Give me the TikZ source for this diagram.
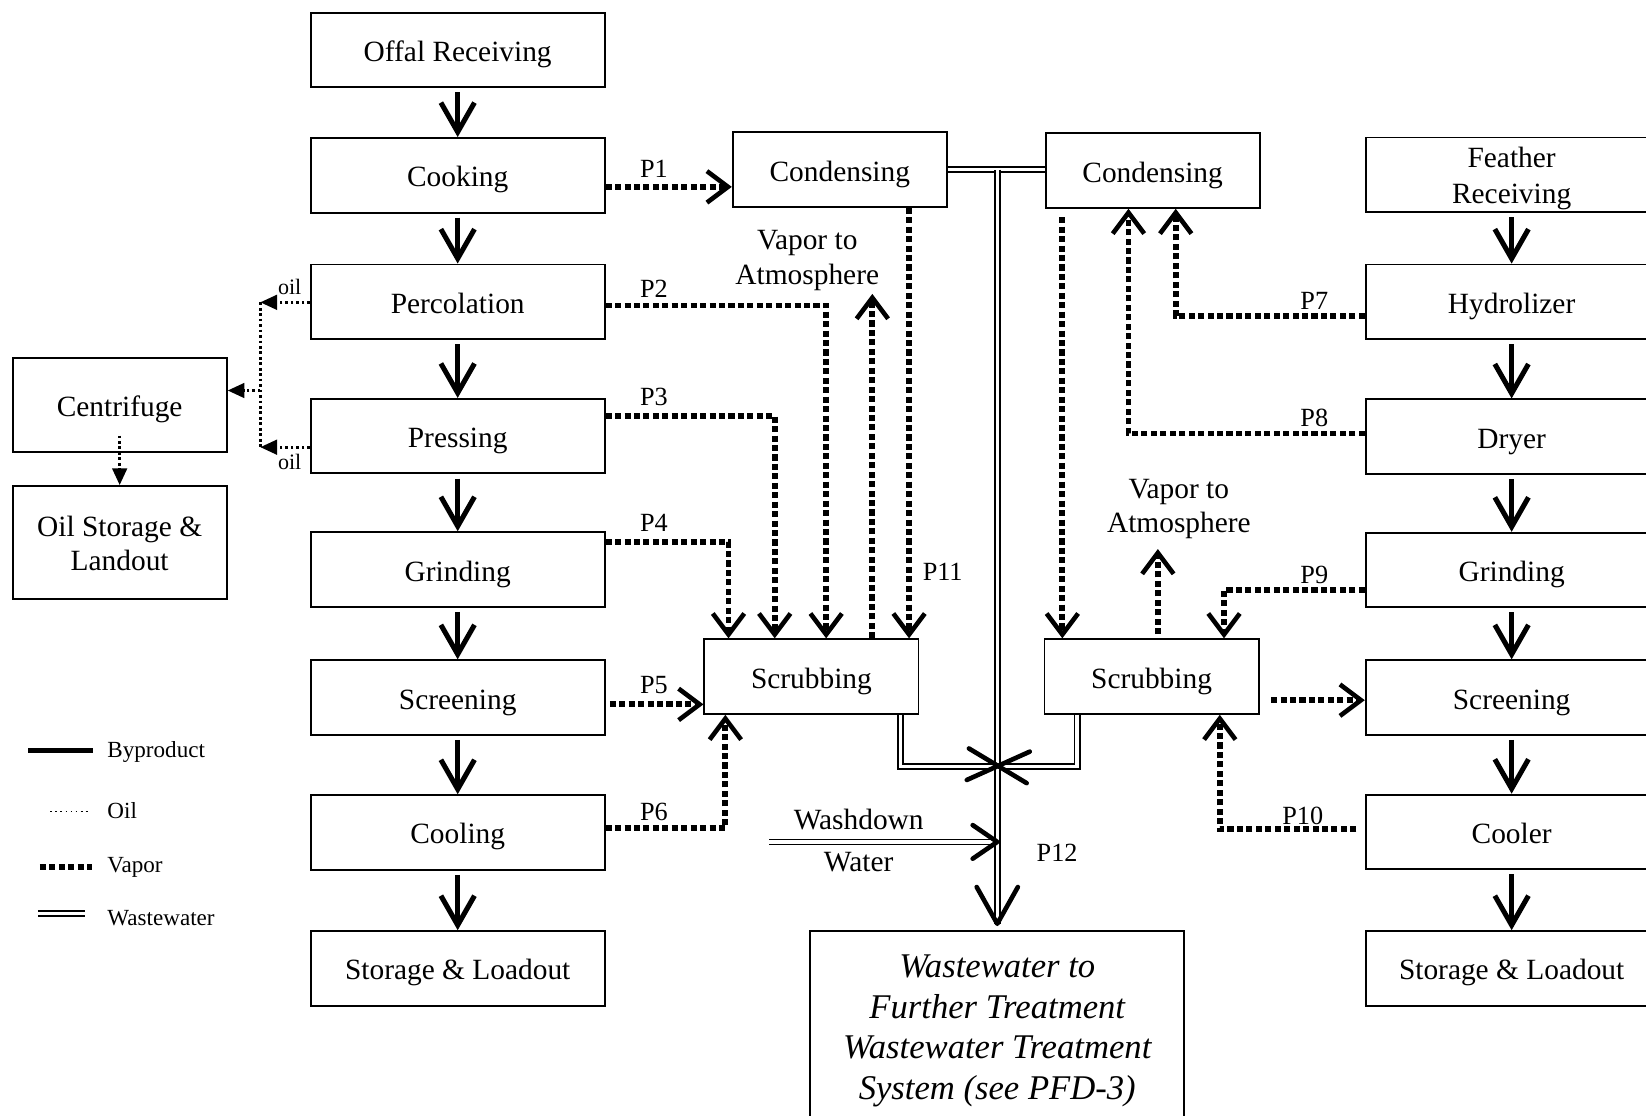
\documentclass[tikz,border=0pt]{standalone}
\usepackage{fontspec}
\setmainfont{Liberation Serif}
\usetikzlibrary{arrows.meta}
\newcommand\fsz[2]{\fontsize{#1}{#2}\selectfont}
\begin{document}
\begin{tikzpicture}[x=0.5pt,y=-0.5pt,
  boxbase/.style={draw, line width=0.9pt, inner sep=0pt, align=center, font=\fsz{14}{17}},
  box/.style={boxbase, text height=12pt, text depth=1pt},
  lbox/.style={box, minimum width=140pt, minimum height=35.5pt},
  rbox/.style={box, minimum width=139pt, minimum height=35.5pt},
  mbox/.style={box, minimum width=102pt, minimum height=35.5pt},
  byp/.style={line width=2.4pt, -{Straight Barb[length=14pt,width=16pt]}},
  vap/.style={line width=2.8pt, dash pattern=on 2.9pt off 1.6pt},
  vt/.style={-{Straight Barb[length=10pt,width=15pt,line width=2.2pt]}},
  oil/.style={line width=1.3pt, dash pattern=on 1.3pt off 1.3pt},
  ot/.style={-{Triangle[length=8pt,width=7pt]}},
  wwl/.style={double, double distance=1.6pt, line width=0.8pt},
  tipl/.style={line width=2.2pt, line cap=round, line join=round},
  plab/.style={font=\fsz{12.5}{15}, inner sep=0pt},
  txt/.style={font=\fsz{14}{16.5}, align=center, inner sep=0pt},
  smt/.style={font=\fsz{10.5}{12}, inner sep=0pt},
  legt/.style={font=\fsz{11}{13}, inner sep=0pt, anchor=west}
]
\useasboundingbox (0,0) rectangle (1568,1063);
\clip (0,0) rectangle (1568,1063);

% left column
\node[lbox] (off) at (436,47.5) {Offal Receiving};
\node[lbox] (cook) at (436,167) {Cooking};
\node[lbox] (perc) at (436,287.5) {Percolation};
\node[lbox] (press) at (436,415.5) {Pressing};
\node[lbox] (grind) at (436,542.5) {Grinding};
\node[lbox] (screen) at (436,664.5) {Screening};
\node[lbox] (cool) at (436,793) {Cooling};
\node[lbox] (store) at (436,922.5) {Storage \& Loadout};
% right column
\node[boxbase, minimum width=139pt, minimum height=35.5pt] (feat) at (1440,166.5) {\raisebox{-1.6pt}[\height][\depth]{\begin{tabular}{@{}c@{}}Feather\\Receiving\end{tabular}}};
\node[rbox] (hyd) at (1440,287.5) {Hydrolizer};
\node[rbox] (dry) at (1440,416) {Dryer};
\node[rbox] (rgrind) at (1440,543) {Grinding};
\node[rbox] (rscreen) at (1440,664.5) {Screening};
\node[rbox] (cooler) at (1440,792.5) {Cooler};
\node[rbox] (rstore) at (1440,922.5) {Storage \& Loadout};
% middle
\node[mbox] (cond1) at (800,161.5) {Condensing};
\node[mbox] (cond2) at (1098,162.5) {Condensing};
\node[mbox] (scrub1) at (773,644.5) {Scrubbing};
\node[mbox] (scrub2) at (1097,644.5) {Scrubbing};
% far left
\node[mbox, minimum height=45pt] (cent) at (114,386) {Centrifuge};
\node[boxbase, minimum width=102pt, minimum height=54pt, font=\fsz{14}{15.8}] (oilst) at (114,517) {\raisebox{-2pt}[\height][\depth]{\begin{tabular}{@{}c@{}}Oil Storage \&\\Landout\end{tabular}}};
% wastewater box
\node[draw, line width=0.9pt, minimum width=178pt, minimum height=110pt, anchor=north, inner sep=0pt] (ww) at (950,886) {};
\node[font=\itshape\fsz{16.5}{19.4}, align=center, inner sep=0pt] (wwt) at (950,982) {Wastewater to\\Further Treatment\\Wastewater Treatment\\System (see PFD-3)};

% byproduct arrows
\foreach \a/\b in {off/cook, cook/perc, perc/press, press/grind, grind/screen, screen/cool, cool/store, feat/hyd, hyd/dry, dry/rgrind, rgrind/rscreen, rscreen/cooler, cooler/rstore}
  \draw[byp] ([yshift=-2pt]\a.south) -- (\b.north);

% oil
\coordinate (ov1) at (248,288);
\coordinate (ov2) at (248,426);
\coordinate (ovc) at (248,372);
\draw[oil] (ov1) -- (ov2);
\draw[oil, ot] (perc.west |- ov1) -- (ov1);
\draw[oil, ot] (press.west |- ov2) -- (ov2);
\draw[oil, ot] (ovc) -- (cent.east |- ovc);
\draw[oil, ot] ([yshift=8.5pt]cent.south) -- (oilst.north);
\node[smt] (oil1) at (276,273) {oil};
\node[smt] (oil2) at (276,440) {oil};

% vapor lines, left
\draw[vap, vt] (cook.east |- 0,178) -- (cond1.west |- 0,178);
\draw[vap, vt] (perc.east |- 0,291) -| (scrub1.north -| 787,0);
\draw[vap, vt] (press.east |- 0,396) -| (scrub1.north -| 738,0);
\draw[vap, vt] (grind.east |- 0,516) -| (scrub1.north -| 694,0);
\draw[vap, vt, shorten <=2pt] (screen.east |- 0,671) -- (scrub1.west |- 0,671);
\draw[vap, vt] (cool.east |- 0,789) -| (scrub1.south -| 691,0);
\coordinate (atm1) at (831,280);
\draw[vap, vt] (scrub1.north -| atm1) -- (atm1);
\draw[vap, vt] (cond1.south -| 866,0) -- (scrub1.north -| 866,0);
% vapor lines, right
\draw[vap, vt, shorten <=4pt] (cond2.south -| 1012,0) -- (scrub2.north -| 1012,0);
\draw[vap, vt] (hyd.west |- 0,301) -| (cond2.south -| 1120,0);
\draw[vap, vt] (dry.west |- 0,413) -| (cond2.south -| 1075,0);
\coordinate (atm2) at (1103,523);
\draw[vap, vt, shorten <=2pt] (scrub2.north -| atm2) -- (atm2);
\draw[vap, vt] (rgrind.west |- 0,562) -| (scrub2.north -| 1166,0);
\draw[vap, vt, shorten <=5.5pt] (scrub2.east |- 0,667) -- (rscreen.west |- 0,667);
\draw[vap, vt, shorten <=4pt] (cooler.west |- 0,790) -| (scrub2.south -| 1162,0);

% labels
\node[plab] (lp1) at (623,161) {P1};
\node[plab] (lp2) at (623,275) {P2};
\node[plab] (lp3) at (623,378) {P3};
\node[plab] (lp4) at (623,498) {P4};
\node[plab] (lp5) at (623,653) {P5};
\node[plab] (lp6) at (623,773) {P6};
\node[plab] (lp11) at (898,545) {P11};
\node[plab] (lp7) at (1252,287) {P7};
\node[plab] (lp8) at (1252,398) {P8};
\node[plab] (lp9) at (1252,548) {P9};
\node[plab] (lp10) at (1241,777) {P10};
\node[plab] (lp12) at (1007,812) {P12};
\node[txt] (va1) at (769,248) {Vapor to\\Atmosphere};
\node[txt] (va2) at (1123,485) {Vapor to\\Atmosphere};
\node[txt] (wdl) at (818,781) {Washdown};
\node[txt] (wtl) at (818,821) {Water};

% wastewater
\coordinate (J) at (950,730);
\coordinate (wd) at (733,802);
\draw[wwl] (cond1.east) -- (cond2.west |- cond1.east);
\draw[wwl] ([xshift=-9pt]scrub1.south east) |- (J);
\draw[wwl] ([xshift=16pt]scrub2.south west) |- (J);
\draw[wwl] (wd) -- (wd -| J);
\draw[wwl] (cond1.east -| J) -- ([yshift=3pt]ww.north);
\coordinate (wwtip) at ([yshift=3pt]ww.north);
\coordinate (wdtip) at (wd -| J);
\draw[tipl] ([shift={(-9.8pt,17.5pt)}]wwtip) -- (wwtip) -- ([shift={(9.8pt,17.5pt)}]wwtip);
\draw[tipl] ([shift={(-11.7pt,8pt)}]wdtip) -- (wdtip) -- ([shift={(-11.7pt,-8pt)}]wdtip);
\draw[tipl] ([shift={(-13.5pt,8.5pt)}]J) -- ([shift={(14pt,-8pt)}]J);
\draw[tipl] ([shift={(-14.5pt,-6.5pt)}]J) -- ([shift={(15.5pt,7pt)}]J);

% legend
\draw[line width=2.2pt] (27,715) -- (89,715);
\draw[line width=0.9pt, dash pattern=on 0.9pt off 1.5pt] (48,773) -- (86,773);
\draw[vap] (38,826) -- (88,826);
\draw[wwl] (36,870) -- (81,870);
\node[legt] (lg1) at (102,716) {Byproduct};
\node[legt] (lg2) at (102,772) {Oil};
\node[legt] (lg3) at (102,826) {Vapor};
\node[legt] (lg4) at (102,875) {Wastewater};
\end{tikzpicture}
\end{document}
